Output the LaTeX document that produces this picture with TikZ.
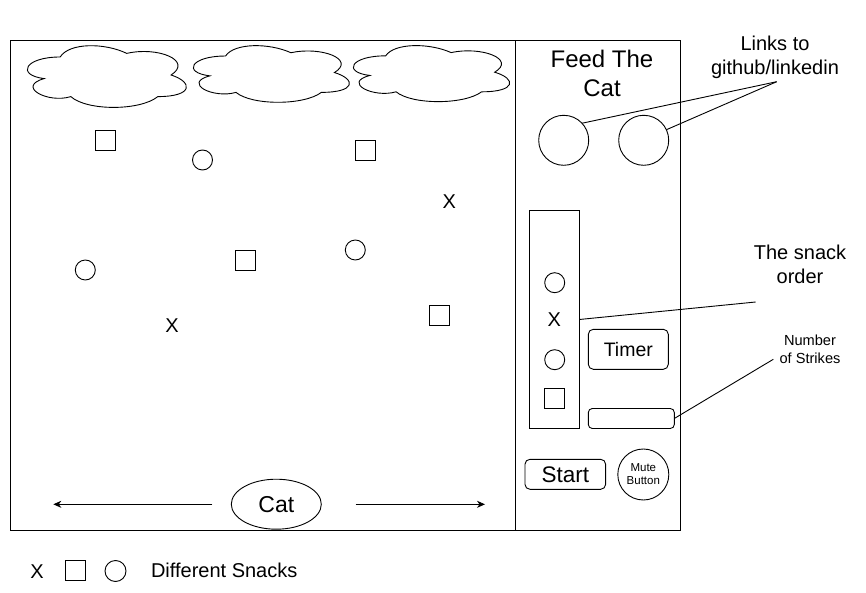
\documentclass[tikz,border=0pt]{standalone}
\usepackage{fontspec}
\setmainfont{Liberation Sans}
\usetikzlibrary{arrows.meta,shapes.geometric}
\newcommand\mycloud[4]{%
  \begin{scope}[shift={(#1,#2)}, xscale=#3, yscale=#4]
    \draw[cloudline] (0.25,0.25) .. controls (0.05,0.25) and (0,0.5) .. (0.16,0.55)
      .. controls (0,0.66) and (0.18,0.9) .. (0.31,0.8)
      .. controls (0.4,1) and (0.7,1) .. (0.8,0.8)
      .. controls (1,0.8) and (1,0.6) .. (0.875,0.5)
      .. controls (1,0.3) and (0.8,0.1) .. (0.625,0.2)
      .. controls (0.5,0.05) and (0.3,0.05) .. (0.25,0.25) -- cycle;
  \end{scope}}
\begin{document}
\begin{tikzpicture}[x=1pt, y=-1pt, line width=0.9pt,
  every node/.style={inner sep=0pt, outer sep=0pt},
  cloudline/.style={line width=0.9pt},
  sqbox/.style={draw, rectangle, minimum width=20pt, minimum height=20pt},
  snackcirc/.style={draw, circle, minimum size=20pt},
  bigcirc/.style={draw, circle, minimum size=50pt},
  rbox/.style={draw, rectangle, rounded corners=5pt},
  snackx/.style={font=\fontsize{20}{24}\selectfont},
  lbl/.style={align=center, font=\fontsize{20}{24}\selectfont},
  conn/.style={draw, line width=0.9pt},
  arr/.style={conn, -{Stealth[length=8pt, width=7pt, inset=2.5pt]}}
]
\useasboundingbox (0,0) rectangle (866,593);

% frames
\node[draw, rectangle, minimum width=505pt, minimum height=490pt] (field) at (262.75,285) {};
\node[draw, rectangle, minimum width=165pt, minimum height=490pt] (panel) at (598,285) {};

% clouds
\mycloud{15.8}{39}{177.5}{72}
\mycloud{182}{39.5}{174.2}{66.1}
\mycloud{342}{39.5}{174.5}{65.4}

% snacks in the field
\node[sqbox] (s1) at (105,140) {};
\node[sqbox] (s2) at (365,150) {};
\node[sqbox] (s3) at (245,260) {};
\node[sqbox] (s4) at (439,315) {};
\node[snackcirc] (o1) at (202.5,160) {};
\node[snackcirc] (o2) at (355.3,250) {};
\node[snackcirc] (o3) at (85.3,270) {};
\node[snackx] (x1) at (449.2,201.5) {X};
\node[snackx] (x2) at (172,326) {X};

% cat and arrows
\node[draw, ellipse, minimum width=90pt, minimum height=50pt,
      font=\fontsize{23}{27}\selectfont] (cat) at (276.3,504.2) {Cat};
\coordinate (la) at (212.3,504.3);
\coordinate (lb) at (53.3,504.3);
\coordinate (ra) at (355.7,504.3);
\coordinate (rb) at (485,504.3);
\draw[arr] (la) -- (lb);
\draw[arr] (ra) -- (rb);

% right panel
\node[align=center, font=\fontsize{24}{29}\selectfont] (title) at (602,73.3) {Feed The\\Cat};
\node[bigcirc] (c1) at (563.7,140.3) {};
\node[bigcirc] (c2) at (643.7,140.3) {};
\node[lbl] (links) at (775,57) {Links to\\github/linkedin};
\coordinate (lk) at (776.7,81.7);
\draw[conn] (c1.43) -- (lk);
\draw[conn] (c2.25) -- (lk);

\node[draw, rectangle, minimum width=50pt, minimum height=218.5pt] (order) at (554.3,319.3) {};
\node[snackcirc] (oc1) at (554.7,282.7) {};
\node[snackx] (ox) at (554.3,319.5) {X};
\node[snackcirc] (oc2) at (554.7,359.7) {};
\node[sqbox] (os) at (554.3,398.3) {};
\node[lbl] (ordtxt) at (800,264) {The snack\\order};
\coordinate (oe) at (755.7,302);
\draw[conn] (order.east |- ox) -- (oe);

\node[rbox, minimum width=80pt, minimum height=40pt,
      font=\fontsize{19.5}{23}\selectfont] (timer) at (628.3,349.3) {Timer};
\node[rbox, rounded corners=4pt, minimum width=86pt, minimum height=20pt] (strikes) at (631.3,418.5) {};
\node[align=center, font=\fontsize{14.6}{17.8}\selectfont] (strtxt) at (810,349) {Number\\of Strikes};
\coordinate (se) at (773.3,359.3);
\draw[conn] (strikes.east) -- (se);

\node[rbox, minimum width=80.7pt, minimum height=30pt,
      font=\fontsize{22.5}{27}\selectfont] (start) at (565.3,474.3) {Start};
\node[draw, circle, minimum size=51pt, align=center,
      font=\fontsize{11.5}{13}\selectfont] (mute) at (643.3,474.5) {Mute\\Button};

% legend
\node[snackx] (lx) at (37,571.5) {X};
\node[sqbox] (lsq) at (75.7,570.7) {};
\node[snackcirc, minimum size=21pt] (lci) at (115.5,571) {};
\node[anchor=west, font=\fontsize{20}{24}\selectfont] (ltxt) at (151,570.5) {Different Snacks};
\end{tikzpicture}
\end{document}
